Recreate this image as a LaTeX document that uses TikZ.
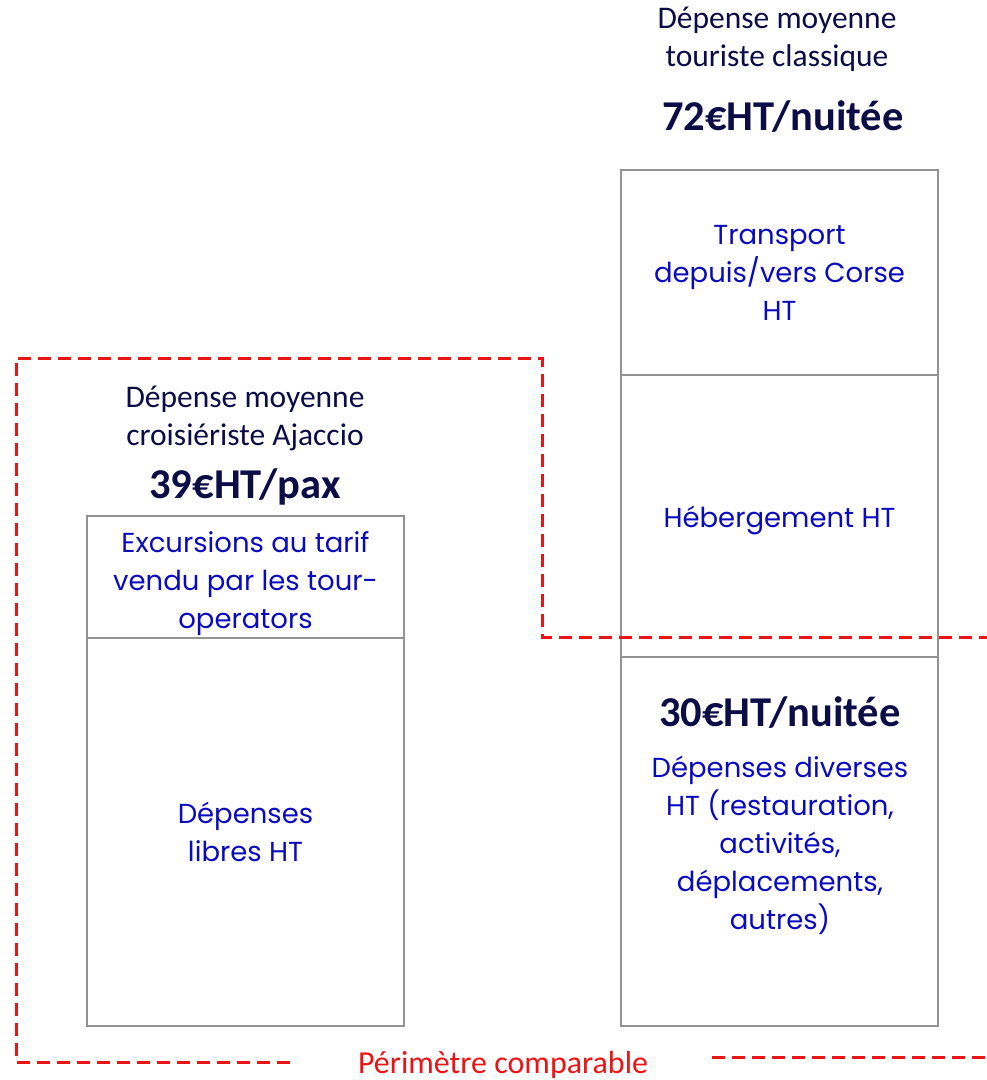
\documentclass[tikz,border=0pt]{standalone}
\usepackage{fontspec}
\setmainfont{Carlito}
\newfontfamily\segfont{Poppins}
\usetikzlibrary{positioning}
\definecolor{navy}{RGB}{12,12,70}
\definecolor{segblue}{RGB}{10,10,190}
\definecolor{perimred}{RGB}{235,20,20}
\tikzset{
  seg/.style={draw=gray!85, line width=2pt, inner sep=0pt, outer sep=0pt,
    minimum width=317pt, align=center, text=segblue,
    font=\segfont\fontsize{27.5}{38}\selectfont},
  head/.style={align=center, text=navy, inner sep=0pt,
    font=\fontsize{31.5}{38}\selectfont},
  total/.style={text=navy, inner sep=0pt, font=\bfseries\fontsize{42.5}{44}\selectfont},
  perim/.style={draw=perimred, line width=3pt, dash pattern=on 13pt off 7pt}
}
\begin{document}
\begin{tikzpicture}[x=1pt, y=-1pt]
\useasboundingbox (0,0) rectangle (987,1080);
% croisieriste
\node[seg, minimum height=122pt, anchor=north west] (exc) at (87,516)
  {\rule{0pt}{34pt}Excursions au tarif\\vendu par les tour-\\operators};
\node[seg, minimum height=388pt, anchor=north west] (libres) at (87,638)
  {D\'epenses\\libres HT};
\node[total] (pax) at (245,487) {39\texteuro HT/pax};
\node[head] (headL) at (245,418) {D\'epense moyenne\\croisi\'eriste Ajaccio};
% touriste classique
\node[seg, minimum height=205pt, anchor=north west] (transp) at (621,170)
  {Transport\\depuis/vers Corse\\HT};
\node[seg, minimum height=282pt, below=0pt of transp] (heberg)
  {\rule{0pt}{30pt}H\'ebergement HT};
\node[seg, minimum height=369pt, below=0pt of heberg] (divers) {};
\node[total] (nuit30) at (780,713) {30\texteuro HT/nuit\'ee};
\node[align=center, text=segblue, inner sep=0pt,
  font=\segfont\fontsize{27.5}{38}\selectfont] (diversTxt) at (780,845)
  {D\'epenses diverses\\HT (restauration,\\activit\'es,\\d\'eplacements,\\autres)};
\node[total] (nuit72) at (783,117) {72\texteuro HT/nuit\'ee};
\node[head] (headR) at (777,39) {D\'epense moyenne\\touriste classique};
% perimetre comparable
\draw[perim] (290,1062) -- (16,1062) -- (16,358) -- (542,358) -- (542,637) -- (987,637);
\draw[perim] (712,1057) -- (987,1057);
\node[text=perimred, inner sep=0pt, anchor=base, font=\fontsize{32}{34}\selectfont]
  (perimTxt) at (503,1073) {P\'erim\`etre comparable};
\end{tikzpicture}
\end{document}
